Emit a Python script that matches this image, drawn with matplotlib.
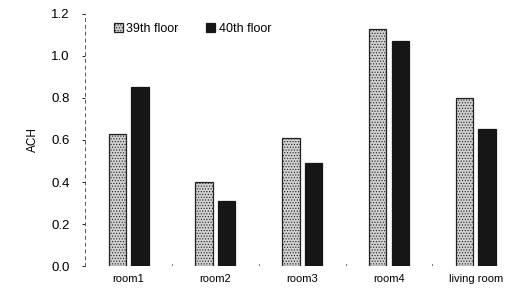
import numpy as np
import matplotlib
matplotlib.use("Agg")
import matplotlib.pyplot as plt

plt.rcParams['font.family'] = ['Liberation Sans', 'DejaVu Sans']
plt.rcParams['hatch.linewidth'] = 0.5

rooms = ["room1", "room2", "room3", "room4", "living room"]
floor39 = [0.63, 0.40, 0.61, 1.13, 0.80]
floor40 = [0.85, 0.31, 0.49, 1.07, 0.65]

fig = plt.figure(figsize=(5.26, 3.02), dpi=100)
ax = fig.add_axes([0.162, 0.119, 0.825, 0.835])

x = np.arange(len(rooms))
w = 0.2
ax.bar(x - 0.13, floor39, w, color="#d0d0d0", edgecolor="#222222", hatch="......",
       linewidth=0.9, label="39th floor")
ax.bar(x + 0.13, floor40, w, color="#161616", edgecolor="#161616",
       linewidth=0.9, label="40th floor")

ax.set_xlim(-0.5, 4.5)
ax.set_ylim(0, 1.2)
ax.set_yticks(np.arange(0, 1.21, 0.2))
ax.set_yticklabels(["%.1f" % v for v in np.arange(0, 1.21, 0.2)], fontsize=9.5)
ax.set_xticks(x)
ax.set_xticklabels(rooms, fontsize=8)
ax.tick_params(axis="x", length=0, pad=6)
ax.tick_params(axis="y", length=2, width=0.6, pad=9)
ax.set_ylabel("ACH", fontsize=8.5, labelpad=9)

for s in ["top", "right", "bottom"]:
    ax.spines[s].set_visible(False)
ax.spines["left"].set_linestyle((0, (3, 4)))
ax.spines["left"].set_linewidth(0.7)
ax.spines["left"].set_color("#555555")
for b in np.arange(0.5, 4.6, 1.0):
    ax.plot([b, b], [0, 0.008], color="#555555", lw=0.6)

ax.legend(loc="upper left", bbox_to_anchor=(0.04, 1.01), ncol=2, frameon=False,
          fontsize=9, handlelength=0.7, handleheight=0.7, handletextpad=0.3,
          columnspacing=2.2)

fig.savefig("out.png", dpi=100)
